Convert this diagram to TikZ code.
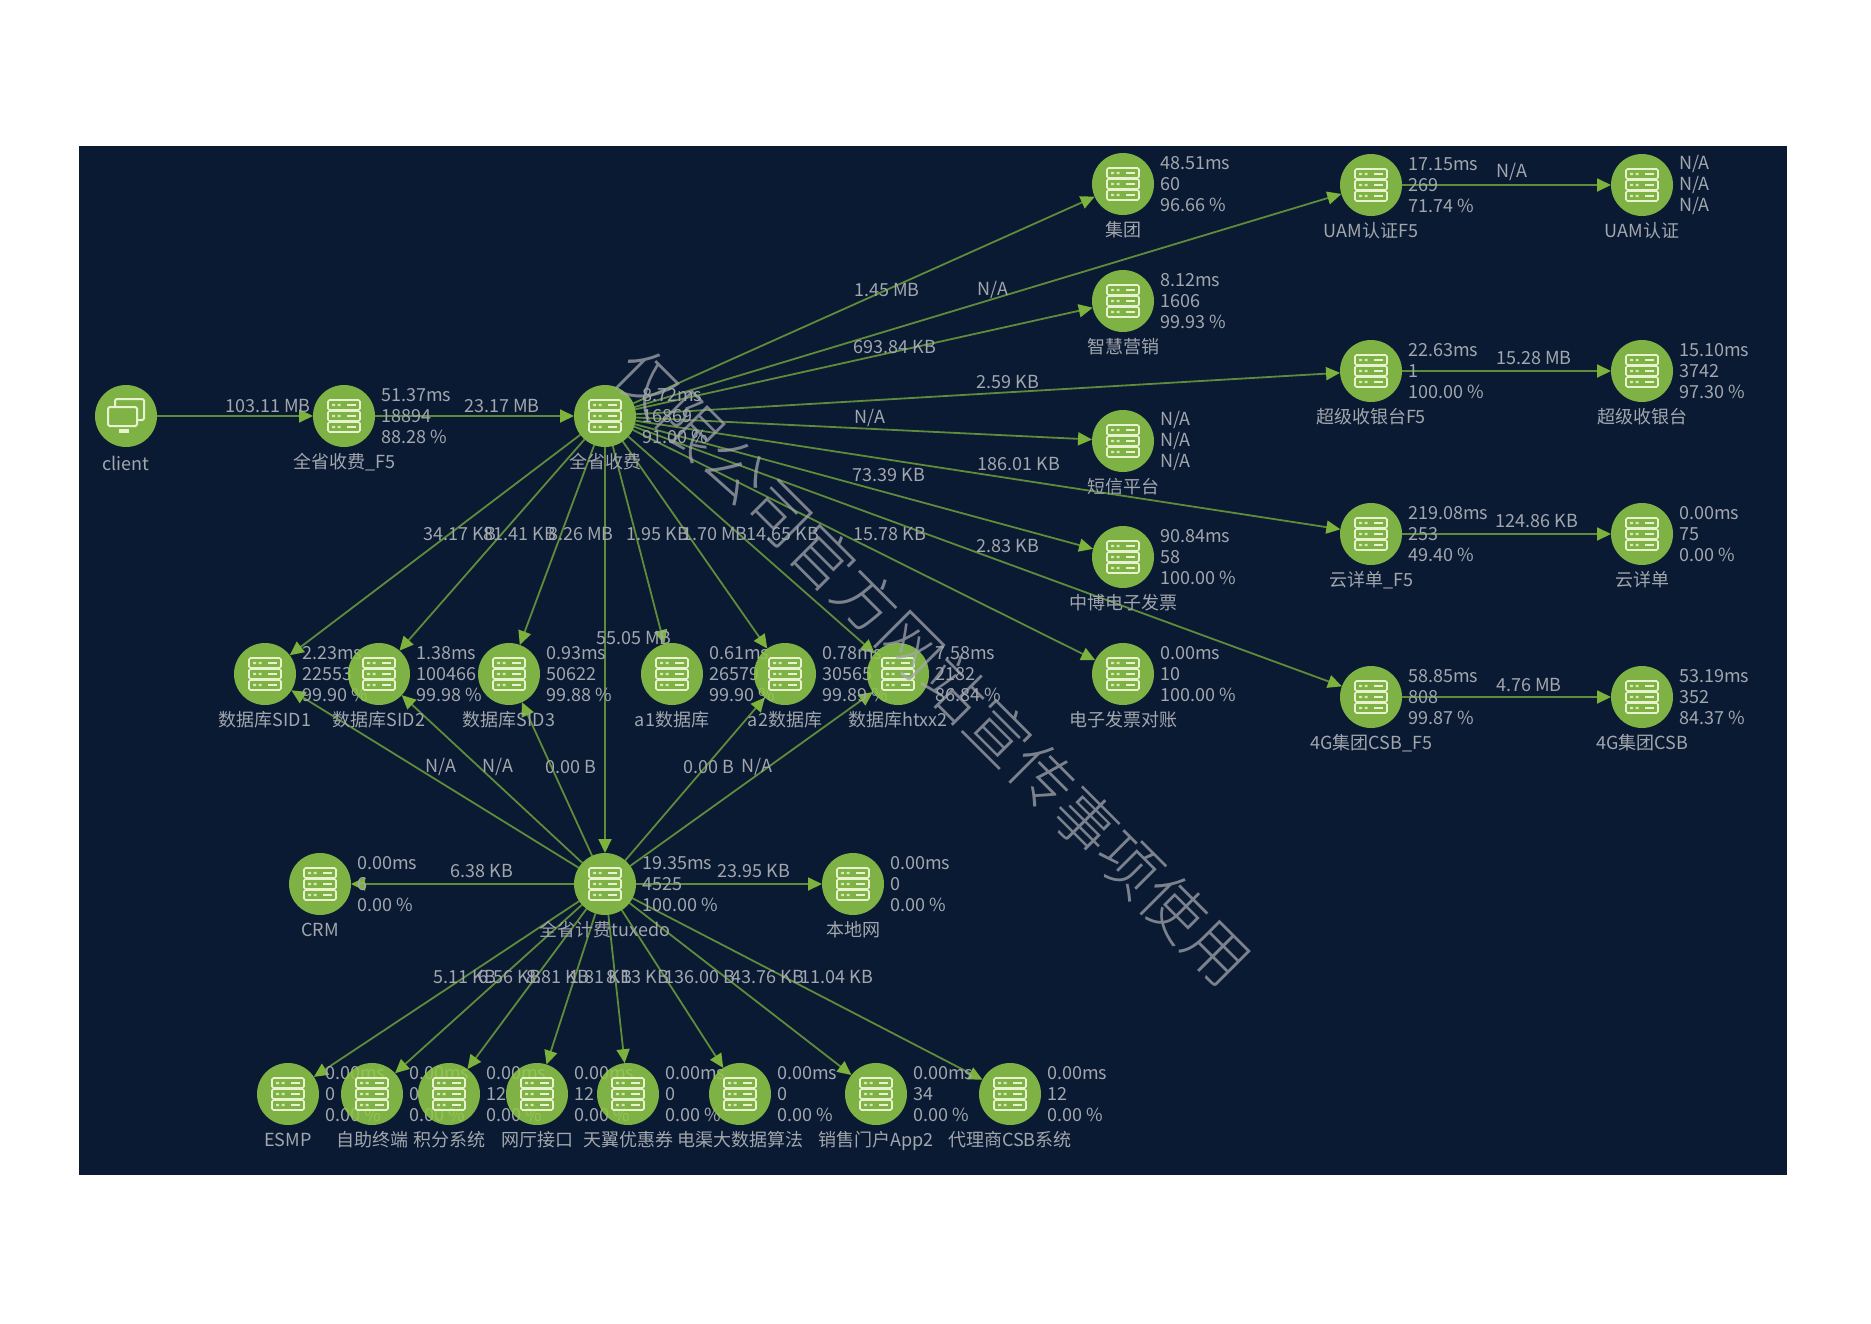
\documentclass[tikz,border=0pt]{standalone}
\usepackage{fontspec}
\setmainfont{Noto Sans CJK SC}
\newfontfamily\stampfont{Noto Sans CJK SC Light}
\usetikzlibrary{positioning,arrows.meta}
\pgfdeclarelayer{back}
\pgfsetlayers{back,main}

\definecolor{panelblue}{HTML}{0A1A33}
\definecolor{nodegreen}{HTML}{90C848}
\definecolor{edgegreen}{HTML}{5E8C3A}
\definecolor{tipgreen}{HTML}{7DB33C}
\definecolor{iconpale}{HTML}{E8F2CF}
\definecolor{textgrey}{HTML}{A2A6AD}

\tikzset{
  hostbase/.style={circle,fill=nodegreen,fill opacity=.88,minimum size=62pt,inner sep=0pt,outer sep=0pt},
  hoststat/.style={align=left,inner sep=0pt,text=textgrey,font=\fontsize{18}{21}\selectfont},
  hostcap/.style={inner sep=0pt,text=textgrey,text height=14pt,text depth=4pt,font=\fontsize{18}{21}\selectfont},
  flowlbl/.style={inner sep=0pt,text=textgrey,font=\fontsize{18}{21}\selectfont},
  servericon/.pic={
    \foreach \r in {-11,0,11} {
      \draw[iconpale,line width=1.6pt,rounded corners=1.5pt] (-16,\r-5) rectangle (16,\r+5);
      \fill[iconpale!80!nodegreen] (-12,\r-1.2) rectangle (-9,\r+1.2) (-6.5,\r-1.2) rectangle (-3.5,\r+1.2);
      \fill[iconpale] (3,\r-1.2) rectangle (12,\r+1.2);
    }
  },
  clienticon/.pic={
    \draw[iconpale,line width=2pt,rounded corners=1.5pt] (-11,-17) rectangle (18,4);
    \draw[iconpale,fill=nodegreen!88!panelblue,line width=2pt,rounded corners=1.5pt] (-18,-9) rectangle (11,10);
    \fill[iconpale] (-7,13) rectangle (3,17);
  }
}

% one host: name, x, y, caption, three stat lines
\newcommand{\hostnode}[7]{
  \node[hostbase] (#1) at (#2,#3) {};
  \pic at (#1) {servericon};
  \node[hoststat,right=6pt of #1] (#1stat) {#5\\#6\\#7};
  \node[hostcap,below=7.5pt of #1] (#1cap) {#4};
}

\begin{document}
\begin{tikzpicture}[x=1pt,y=-1pt]

      \useasboundingbox (0,0) rectangle (1871,1323);

      \begin{pgfonlayer}{back}
        \fill[panelblue] (79,146) rectangle (1787,1175);
      \end{pgfonlayer}

      \node[hostbase] (client) at (126,416) {};
      \pic at (client) {clienticon};
      \node[hostcap,below=9pt of client] (clientcap) {client};

      \hostnode{feefive}{344}{416}{全省收费\_F5}{51.37ms}{18894}{88.28 \%}
      \hostnode{fee}{605}{416}{全省收费}{8.72ms}{16869}{91.00 \%}

      \hostnode{group}{1123}{184}{集团}{48.51ms}{60}{96.66 \%}
      \hostnode{smart}{1123}{301}{智慧营销}{8.12ms}{1606}{99.93 \%}
      \hostnode{sms}{1123}{441}{短信平台}{N/A}{N/A}{N/A}
      \hostnode{invoice}{1123}{557}{中博电子发票}{90.84ms}{58}{100.00 \%}
      \hostnode{recon}{1123}{674}{电子发票对账}{0.00ms}{10}{100.00 \%}

      \hostnode{uamfive}{1371}{185}{UAM认证F5}{17.15ms}{269}{71.74 \%}
      \hostnode{uam}{1642}{185}{UAM认证}{N/A}{N/A}{N/A}
      \hostnode{cashfive}{1371}{371}{超级收银台F5}{22.63ms}{1}{100.00 \%}
      \hostnode{cash}{1642}{371}{超级收银台}{15.10ms}{3742}{97.30 \%}
      \hostnode{cloudfive}{1371}{534}{云详单\_F5}{219.08ms}{253}{49.40 \%}
      \hostnode{cloud}{1642}{534}{云详单}{0.00ms}{75}{0.00 \%}
      \hostnode{csbfive}{1371}{697}{4G集团CSB\_F5}{58.85ms}{808}{99.87 \%}
      \hostnode{csb}{1642}{697}{4G集团CSB}{53.19ms}{352}{84.37 \%}

      \hostnode{sidone}{265}{674}{数据库SID1}{2.23ms}{22553}{99.90 \%}
      \hostnode{sidtwo}{379}{674}{数据库SID2}{1.38ms}{100466}{99.98 \%}
      \hostnode{sidthree}{509}{674}{数据库SID3}{0.93ms}{50622}{99.88 \%}
      \hostnode{aone}{672}{674}{a1数据库}{0.61ms}{26579}{99.90 \%}
      \hostnode{atwo}{785}{674}{a2数据库}{0.78ms}{30565}{99.89 \%}
      \hostnode{htxx}{898}{674}{数据库htxx2}{7.58ms}{2182}{86.84 \%}

      \hostnode{crm}{320}{884}{CRM}{0.00ms}{6}{0.00 \%}
      \hostnode{tuxedo}{605}{884}{全省计费tuxedo}{19.35ms}{4525}{100.00 \%}
      \hostnode{local}{853}{884}{本地网}{0.00ms}{0}{0.00 \%}

      \hostnode{esmp}{288}{1094}{ESMP}{0.00ms}{0}{0.00 \%}
      \hostnode{kiosk}{372}{1094}{自助终端}{0.00ms}{0}{0.00 \%}
      \hostnode{points}{449}{1094}{积分系统}{0.00ms}{12}{0.00 \%}
      \hostnode{hall}{537}{1094}{网厅接口}{0.00ms}{12}{0.00 \%}
      \hostnode{coupon}{628}{1094}{天翼优惠券}{0.00ms}{0}{0.00 \%}
      \hostnode{bigdata}{740}{1094}{电渠大数据算法}{0.00ms}{0}{0.00 \%}
      \hostnode{sales}{876}{1094}{销售门户App2}{0.00ms}{34}{0.00 \%}
      \hostnode{agent}{1010}{1094}{代理商CSB系统}{0.00ms}{12}{0.00 \%}

      \begin{pgfonlayer}{back}
        \begin{scope}[every edge/.style={draw=edgegreen,line width=1.8pt,-{Triangle[length=14pt,width=13pt,color=tipgreen]}}]
          \path (client) edge (feefive);
          \path (feefive) edge (fee);
          \path (fee) edge (group);
          \path (fee) edge (uamfive);
          \path (fee) edge (smart);
          \path (fee) edge (cashfive);
          \path (fee) edge (sms);
          \path (fee) edge (cloudfive);
          \path (fee) edge (invoice);
          \path (fee) edge (csbfive);
          \path (fee) edge (recon);
          \path (uamfive) edge (uam);
          \path (cashfive) edge (cash);
          \path (cloudfive) edge (cloud);
          \path (csbfive) edge (csb);
          \path (fee) edge (sidone);
          \path (fee) edge (sidtwo);
          \path (fee) edge (sidthree);
          \path (fee) edge (tuxedo);
          \path (fee) edge (aone);
          \path (fee) edge (atwo);
          \path (fee) edge (htxx);
          \path (tuxedo) edge (sidone);
          \path (tuxedo) edge (sidtwo);
          \path (tuxedo) edge (sidthree);
          \path (tuxedo) edge (atwo);
          \path (tuxedo) edge (htxx);
          \path (tuxedo) edge (crm);
          \path (tuxedo) edge (local);
          \path (tuxedo) edge (esmp);
          \path (tuxedo) edge (kiosk);
          \path (tuxedo) edge (points);
          \path (tuxedo) edge (hall);
          \path (tuxedo) edge (coupon);
          \path (tuxedo) edge (bigdata);
          \path (tuxedo) edge (sales);
          \path (tuxedo) edge (agent);
        \end{scope}
      \end{pgfonlayer}

      \begin{scope}[every node/.style={flowlbl}]
        \node (clientflow) at (268,406) {103.11 MB};
        \node (feefiveflow) at (502,406) {23.17 MB};
        \node (groupflow) at (887,290) {1.45 MB};
        \node (uamfiveflow) at (993,290) {N/A};
        \node (smartflow) at (895,347) {693.84 KB};
        \node (cashfiveflow) at (1008,382) {2.59 KB};
        \node (smsflow) at (870,418) {N/A};
        \node (cloudfiveflow) at (1019,464) {186.01 KB};
        \node (invoiceflow) at (889,475) {73.39 KB};
        \node (csbfiveflow) at (1008,546) {2.83 KB};
        \node (reconflow) at (890,534) {15.78 KB};
        \node (uamflow) at (1512,172) {N/A};
        \node (cashflow) at (1534,358) {15.28 MB};
        \node (cloudflow) at (1537,521) {124.86 KB};
        \node (csbflow) at (1529,685) {4.76 MB};
        \node (sidoneflow) at (460,534) {34.17 KB};
        \node (sidtwoflow) at (520,534) {81.41 KB};
        \node (sidthreeflow) at (581,534) {8.26 MB};
        \node (aoneflow) at (658,534) {1.95 KB};
        \node (atwoflow) at (715,534) {1.70 MB};
        \node (htxxflow) at (783,534) {14.65 KB};
        \node (tuxedoflow) at (634,638) {55.05 MB};
        \node (tsidoneflow) at (441,767) {N/A};
        \node (tsidtwoflow) at (498,767) {N/A};
        \node (tsidthreeflow) at (571,767) {0.00 B};
        \node (tatwoflow) at (709,767) {0.00 B};
        \node (thtxxflow) at (757,767) {N/A};
        \node (crmflow) at (482,871) {6.38 KB};
        \node (localflow) at (754,871) {23.95 KB};
        \node (esmpflow) at (465,977) {5.11 KB};
        \node (kioskflow) at (510,977) {6.56 KB};
        \node (pointsflow) at (558,977) {8.81 KB};
        \node (hallflow) at (601,977) {1.81 KB};
        \node (couponflow) at (638,977) {8.13 KB};
        \node (bigdataflow) at (700,977) {136.00 B};
        \node (salesflow) at (768,977) {43.76 KB};
        \node (agentflow) at (837,977) {11.04 KB};
      \end{scope}

      \node[rotate=-45,text=textgrey,opacity=.75,inner sep=0pt,font=\stampfont\fontsize{62}{62}\selectfont] (stamp) at (933,667) {仅限公司官方网站宣传事项使用};

    \end{tikzpicture}
\end{document}
